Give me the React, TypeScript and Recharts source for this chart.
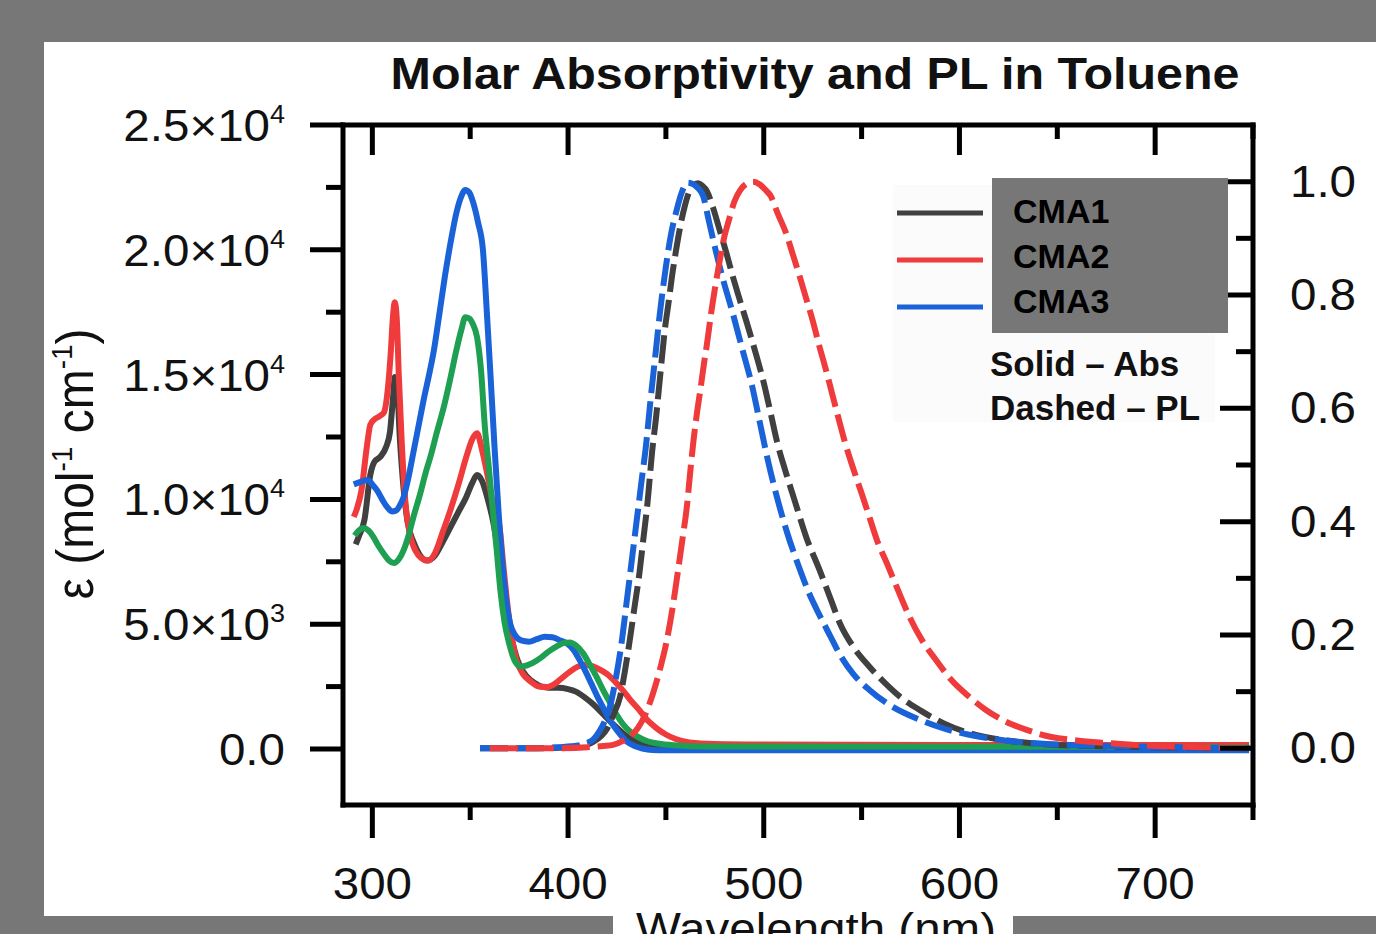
import { Line, LineChart, XAxis, YAxis } from "recharts";

const GRAY_BG = "#777777";
const FONT = '"Liberation Sans", Arial, Helvetica, sans-serif';

const C_GRAY = "#404040";
const C_RED = "#ef3b3b";
const C_BLUE = "#1a62d8";
const C_GREEN = "#1f9f52";

// absorption (molar absorptivity, left axis)
const CMA1_ABS_NM = [291.5, 293, 296, 299, 301, 304, 307, 309, 310.5, 311.5, 312.5, 314, 316, 318, 321, 324, 328, 332, 336, 340, 344, 348, 351, 353.5, 356, 359, 362, 365, 368, 371, 374, 377, 381, 385, 390, 395, 400, 404, 408, 412, 416, 420, 424, 428, 432, 436, 440, 445, 450, 470, 520, 600, 700, 748];
const CMA1_ABS_EPS = [8200, 8500, 9200, 11000, 11500, 11700, 12100, 12700, 14000, 14900, 14700, 12500, 10400, 9100, 8300, 7800, 7550, 7750, 8300, 8900, 9500, 10100, 10650, 10980, 10750, 10000, 9000, 7500, 5800, 4500, 3600, 3100, 2750, 2550, 2450, 2450, 2400, 2300, 2100, 1850, 1550, 1230, 920, 640, 400, 250, 160, 100, 80, 80, 80, 80, 80, 80];

const CMA2_ABS_NM = [290.5, 292, 294.5, 297, 299, 301, 304, 306, 308, 309.5, 310.5, 311.5, 312.5, 313.5, 315, 317, 319.5, 322, 325, 328.5, 332, 336, 340, 344, 348, 351, 353.5, 356, 359, 362, 365, 367, 369, 371, 373.5, 377, 381, 385, 389, 393, 397, 401, 405, 409, 413, 417, 420, 424, 428, 432, 436, 440, 445, 450, 455, 462, 475, 500, 600, 748];
const CMA2_ABS_EPS = [9300, 9600, 10400, 12000, 13000, 13200, 13350, 13500, 14500, 16000, 17300, 17900, 17200, 15000, 12300, 9800, 8500, 7950, 7650, 7550, 7850, 8700, 9600, 10600, 11700, 12400, 12650, 12000, 10900, 9700, 8900, 7300, 5800, 4600, 3600, 3000, 2700, 2500, 2480, 2600, 2850, 3100, 3300, 3380, 3300, 3150, 3000, 2700, 2350, 1950, 1600, 1200, 850, 580, 400, 260, 200, 180, 160, 160];

const CMA3_ABS_NM = [290.5, 294, 297.5, 300, 302.5, 305, 307.5, 310, 312, 314, 316, 318.5, 321, 324, 326.5, 329, 331.5, 334, 337, 340, 343, 345.5, 347.5, 349.5, 351.5, 354, 356.5, 358.5, 360.5, 362.5, 364.5, 366.5, 368.5, 370.5, 373, 376, 380, 384, 388, 392, 396, 400, 403, 406, 409, 412, 415, 418, 421, 424, 427, 430, 434, 438, 443, 450, 748];
const CMA3_ABS_EPS = [10600, 10700, 10780, 10600, 10350, 10000, 9700, 9520, 9550, 9750, 10100, 10900, 11900, 13100, 14100, 15000, 16000, 17300, 18900, 20300, 21500, 22150, 22400, 22300, 21900, 21100, 20000, 17500, 14800, 12000, 9500, 7400, 5900, 5000, 4550, 4350, 4300, 4400, 4500, 4480, 4350, 4200, 3950, 3550, 3100, 2600, 2100, 1650, 1200, 850, 550, 300, 120, 20, -40, -50, -50];

const CMA4_ABS_NM = [291, 293, 295.5, 298, 300.5, 303, 306, 308.5, 311, 313.5, 316, 318.5, 321, 324, 327, 330, 333, 336.5, 340, 343, 345.5, 347.5, 349.5, 351.5, 353.5, 355.5, 357.5, 359.5, 361.5, 363.5, 365.5, 367.5, 370, 373, 376, 379, 382, 386, 390, 394, 398, 401, 404, 407.5, 411, 414.5, 418, 421.5, 425, 428, 432, 436.5, 441, 446, 454, 470, 748];
const CMA4_ABS_EPS = [8550, 8750, 8850, 8750, 8500, 8150, 7800, 7550, 7450, 7600, 7970, 8550, 9300, 10100, 11000, 11800, 12700, 13700, 14900, 16000, 16800, 17300, 17250, 17000, 16500, 15200, 12900, 11300, 9600, 8000, 6300, 5100, 4200, 3500, 3300, 3350, 3450, 3650, 3900, 4100, 4250, 4270, 4150, 3850, 3400, 2900, 2350, 1850, 1350, 1000, 680, 450, 300, 220, 150, 100, 80];

// photoluminescence (normalised, right axis)
const CMA1_PL_NM = [355, 380, 400, 408, 413, 417, 420, 423, 426.5, 429, 431.5, 434, 436.5, 438.5, 440.5, 443, 445, 447, 449.5, 451.5, 453, 455, 457, 459.5, 462, 464.5, 466.5, 468.5, 471, 474, 477, 481, 484, 487, 491, 494, 496.5, 500, 503, 507, 511, 516, 522, 528.5, 534, 539, 546, 554, 562, 570, 580, 592, 605, 618, 631, 650, 680, 720, 748];
const CMA1_PL = [0, 0, 0.002, 0.005, 0.012, 0.022, 0.035, 0.058, 0.09, 0.135, 0.19, 0.25, 0.31, 0.37, 0.43, 0.525, 0.585, 0.655, 0.74, 0.79, 0.83, 0.875, 0.915, 0.955, 0.983, 0.995, 0.997, 0.993, 0.983, 0.955, 0.92, 0.873, 0.835, 0.8, 0.755, 0.72, 0.69, 0.645, 0.6, 0.538, 0.49, 0.435, 0.37, 0.315, 0.265, 0.22, 0.178, 0.144, 0.115, 0.09, 0.067, 0.044, 0.027, 0.017, 0.011, 0.006, 0.003, 0.001, 0];

const CMA2_PL_NM = [360, 390, 410, 418, 423, 428, 432, 435.5, 439.5, 443.5, 447, 450.5, 453.5, 456, 458.5, 460.7, 462.5, 464, 466, 467.5, 469.5, 471, 473, 475, 477.5, 480, 482, 485, 488, 491, 494.5, 498, 501, 503.5, 507, 511.5, 515, 518.5, 522, 525, 528, 532, 535, 538, 541.5, 545.5, 550, 554, 558, 563, 568.5, 574.5, 581, 588, 596, 605, 613, 622, 634, 647, 660, 673, 690, 710, 748];
const CMA2_PL = [0, 0, 0.002, 0.004, 0.006, 0.013, 0.022, 0.035, 0.06, 0.098, 0.14, 0.191, 0.25, 0.309, 0.37, 0.426, 0.49, 0.54, 0.595, 0.63, 0.68, 0.714, 0.765, 0.81, 0.861, 0.905, 0.93, 0.965, 0.985, 0.996, 1.0, 0.995, 0.985, 0.975, 0.945, 0.908, 0.87, 0.831, 0.79, 0.755, 0.715, 0.665, 0.625, 0.585, 0.54, 0.496, 0.45, 0.408, 0.366, 0.326, 0.28, 0.232, 0.19, 0.156, 0.12, 0.091, 0.069, 0.05, 0.033, 0.02, 0.014, 0.01, 0.006, 0.003, 0.001];

const CMA3_PL_NM = [355, 380, 395, 405, 410, 413, 416, 419, 421.5, 424.5, 427.5, 430, 432.5, 435, 437.5, 440, 442, 444.5, 447, 450, 452.5, 455.5, 458, 461, 463, 466, 469, 472, 475, 479, 484, 489, 494, 498, 502, 507, 512, 518, 523, 528.5, 534, 539, 546, 554, 565, 580, 592, 605, 618, 631, 656, 690, 748];
const CMA3_PL = [0, 0, 0.002, 0.005, 0.01, 0.016, 0.03, 0.05, 0.075, 0.125, 0.19, 0.26, 0.33, 0.4, 0.47, 0.54, 0.61, 0.69, 0.77, 0.85, 0.905, 0.95, 0.98, 0.998, 0.997, 0.99, 0.975, 0.93, 0.885, 0.83, 0.77, 0.705, 0.64, 0.575, 0.51, 0.44, 0.38, 0.32, 0.275, 0.235, 0.198, 0.165, 0.13, 0.103, 0.075, 0.05, 0.035, 0.024, 0.016, 0.011, 0.006, 0.003, 0];

const X_TICKS = [300, 350, 400, 450, 500, 550, 600, 650, 700, 750];
const EPS_TICKS = [0, 2500, 5000, 7500, 10000, 12500, 15000, 17500, 20000, 22500, 25000];
const PL_TICKS = [0, 0.1, 0.2, 0.3, 0.4, 0.5, 0.6, 0.7, 0.8, 0.9, 1.0];
const LEGEND = [
    { name: "CMA1", color: C_GRAY },
    { name: "CMA2", color: C_RED },
    { name: "CMA3", color: C_BLUE },
];

const toPoints = (nm: number[], v: number[]) =>
    nm.map((x, i) => ({ nm: x, v: v[i] }));

const absSeries = [
    { key: "a1", color: C_GRAY, data: toPoints(CMA1_ABS_NM, CMA1_ABS_EPS) },
    { key: "a2", color: C_RED, data: toPoints(CMA2_ABS_NM, CMA2_ABS_EPS) },
    { key: "a3", color: C_BLUE, data: toPoints(CMA3_ABS_NM, CMA3_ABS_EPS) },
    { key: "a4", color: C_GREEN, data: toPoints(CMA4_ABS_NM, CMA4_ABS_EPS) },
];

const plSeries = [
    { key: "p1", color: C_GRAY, data: toPoints(CMA1_PL_NM, CMA1_PL) },
    { key: "p3", color: C_BLUE, data: toPoints(CMA3_PL_NM, CMA3_PL) },
    { key: "p2", color: C_RED, data: toPoints(CMA2_PL_NM, CMA2_PL) },
];

const SX = 1.08;
const TICK_FONT = 44;
const INK = "#111";

function LeftTick(props: any) {
    const { x, y, payload } = props;
    const v = payload.value;
    const major = v % 5000 === 0;
    let label = null;
    if (major) {
        const t = `translate(${x - 58},${y + 16}) scale(${SX},1)`;
        if (v === 0) {
            label = (
                <text transform={t} textAnchor="end" fontSize={TICK_FONT} fill={INK} fontFamily={FONT}>
                    0.0
                </text>
            );
        } else {
            const exp = Math.floor(Math.log10(v));
            const mant = (v / Math.pow(10, exp)).toFixed(1);
            label = (
                <text transform={t} textAnchor="end" fontSize={TICK_FONT} fill={INK} fontFamily={FONT}>
                    {mant}×10
                    <tspan dy={-18} fontSize={25}>{exp}</tspan>
                </text>
            );
        }
    }
    return (
        <g>
            <line x1={x} x2={x - (major ? 33 : 17)} y1={y} y2={y} stroke="#000" strokeWidth={5} />
            {label}
        </g>
    );
}

function RightTick(props: any) {
    const { x, y, payload } = props;
    const v = payload.value;
    const major = Math.round(v * 10) % 2 === 0;
    return (
        <g>
            <line x1={x} x2={x - (major ? 33 : 17)} y1={y} y2={y} stroke="#000" strokeWidth={5} />
            {major && (
                <text
                    transform={`translate(${x + 37},${y + 15}) scale(${SX},1)`}
                    textAnchor="start"
                    fontSize={TICK_FONT}
                    fill={INK}
                    fontFamily={FONT}
                >
                    {v.toFixed(1)}
                </text>
            )}
        </g>
    );
}

function BottomTick(props: any) {
    const { x, y, payload } = props;
    const v = payload.value;
    const major = v % 100 === 0;
    return (
        <g>
            <line x1={x} x2={x} y1={y} y2={y + (major ? 33 : 15)} stroke="#000" strokeWidth={5} />
            {major && (
                <text
                    transform={`translate(${x},${y + 94}) scale(${SX},1)`}
                    textAnchor="middle"
                    fontSize={TICK_FONT}
                    fill={INK}
                    fontFamily={FONT}
                >
                    {v}
                </text>
            )}
        </g>
    );
}

function TopTick(props: any) {
    const { x, y, payload } = props;
    const major = payload.value % 100 === 0;
    return <line x1={x} x2={x} y1={y} y2={y + (major ? 30 : 14)} stroke="#000" strokeWidth={5} />;
}

const AXIS_LINE = { stroke: "#000", strokeWidth: 5, strokeLinecap: "square" as const };

export default function App() {
    return (
        <div
            style={{
                position: "absolute",
                left: 0,
                top: 0,
                width: 1376,
                height: 934,
                background: GRAY_BG,
                overflow: "hidden",
                fontFamily: FONT,
            }}
        >
            <div style={{ position: "absolute", left: 44, top: 42, width: 1332, height: 874, background: "#fff" }} />
            <div style={{ position: "absolute", left: 613, top: 900, width: 400, height: 34, background: "#fff" }} />

            <div style={{ position: "absolute", left: 0, top: 0 }}>
                <LineChart width={1376} height={934} margin={{ top: 95, right: 23, bottom: 69, left: 243 }}>
                    <XAxis
                        xAxisId="b"
                        type="number"
                        dataKey="nm"
                        domain={[285, 750]}
                        allowDataOverflow
                        ticks={X_TICKS}
                        interval={0}
                        tickSize={0}
                        tickMargin={0}
                        tick={BottomTick}
                        axisLine={AXIS_LINE}
                        height={60}
                    />
                    <XAxis
                        xAxisId="t"
                        orientation="top"
                        type="number"
                        dataKey="nm"
                        domain={[285, 750]}
                        allowDataOverflow
                        ticks={X_TICKS}
                        interval={0}
                        tickSize={0}
                        tickMargin={0}
                        tick={TopTick}
                        axisLine={AXIS_LINE}
                        height={30}
                    />
                    <YAxis
                        yAxisId="eps"
                        type="number"
                        domain={[-2244, 25000]}
                        allowDataOverflow
                        ticks={EPS_TICKS}
                        interval={0}
                        tickSize={0}
                        tickMargin={0}
                        tick={LeftTick}
                        axisLine={AXIS_LINE}
                        width={100}
                    />
                    <YAxis
                        yAxisId="pl"
                        orientation="right"
                        type="number"
                        domain={[-0.1, 1.1]}
                        allowDataOverflow
                        ticks={PL_TICKS}
                        interval={0}
                        tickSize={0}
                        tickMargin={0}
                        tick={RightTick}
                        axisLine={AXIS_LINE}
                        width={100}
                    />

                    {absSeries.map((s) => (
                        <Line
                            key={s.key}
                            xAxisId="b"
                            yAxisId="eps"
                            data={s.data}
                            dataKey="v"
                            type="monotone"
                            stroke={s.color}
                            strokeWidth={6}
                            dot={false}
                            activeDot={false}
                            isAnimationActive={false}
                        />
                    ))}
                    {plSeries.map((s) => (
                        <Line
                            key={s.key}
                            xAxisId="b"
                            yAxisId="pl"
                            data={s.data}
                            dataKey="v"
                            type="monotone"
                            stroke={s.color}
                            strokeWidth={6}
                            strokeDasharray="28 8"
                            dot={false}
                            activeDot={false}
                            isAnimationActive={false}
                        />
                    ))}
                </LineChart>
            </div>

            <svg
                width={1376}
                height={934}
                style={{ position: "absolute", left: 0, top: 0, pointerEvents: "none" }}
                fontFamily={FONT}
            >
                <text
                    transform="translate(815,89) scale(1.1,1)"
                    textAnchor="middle"
                    fontSize={44}
                    fontWeight="bold"
                    fill={INK}
                >
                    Molar Absorptivity and PL in Toluene
                </text>

                <text
                    transform={`translate(93,464) rotate(-90) scale(1,${SX})`}
                    textAnchor="middle"
                    fontSize={48}
                    fill={INK}
                >
                    ε (mol
                    <tspan dy={-19} fontSize={28}>-1</tspan>
                    <tspan dy={19}> cm</tspan>
                    <tspan dy={-19} fontSize={28}>-1</tspan>
                    <tspan dy={19}>)</tspan>
                </text>

                <text
                    transform={`translate(816,944) scale(${SX},1)`}
                    textAnchor="middle"
                    fontSize={44}
                    fill={INK}
                >
                    Wavelength (nm)
                </text>

                <rect x={893} y={185} width={322} height={237} fill="#fbfbfb" />
                {LEGEND.map((item, i) => (
                    <line
                        key={item.name}
                        x1={897}
                        x2={983}
                        y1={213 + i * 47}
                        y2={213 + i * 47}
                        stroke={item.color}
                        strokeWidth={5}
                    />
                ))}
                <rect x={992} y={178} width={236} height={155} fill={GRAY_BG} />
                {LEGEND.map((item, i) => (
                    <text key={item.name} x={1013} y={223 + i * 45} fontSize={34} fontWeight="bold" fill="#000">
                        {item.name}
                    </text>
                ))}
                <text x={990} y={376} fontSize={35} fontWeight="bold" fill={INK}>
                    Solid – Abs
                </text>
                <text x={990} y={420} fontSize={35} fontWeight="bold" fill={INK}>
                    Dashed – PL
                </text>
            </svg>
        </div>
    );
}
